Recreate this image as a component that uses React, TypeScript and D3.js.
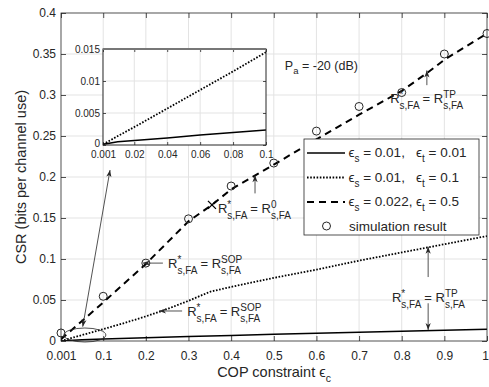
import { useEffect, useRef } from 'react';
import * as d3 from 'd3';

// ─── Data ───────────────────────────────────────────────────

const xTicks = [0.001, 0.1, 0.2, 0.3, 0.4, 0.5, 0.6, 0.7, 0.8, 0.9, 1];
const xTickLabels = ['0.001', '0.1', '0.2', '0.3', '0.4', '0.5', '0.6', '0.7', '0.8', '0.9', '1'];
const yTicks = [0, 0.05, 0.1, 0.15, 0.2, 0.25, 0.3, 0.35, 0.4];
const yTickLabels = ['0', '0.05', '0.1', '0.15', '0.2', '0.25', '0.3', '0.35', '0.4'];

// eps_s = 0.01, eps_t = 0.01 (solid)
const solidEps = [0.001, 0.02, 0.05, 0.1, 0.2, 0.3, 0.4, 0.5, 0.6, 0.7, 0.8, 0.9, 1];
const solidCsr = [0.0001, 0.0007, 0.0014, 0.0024, 0.004, 0.0054, 0.0068, 0.0081, 0.0093, 0.0106, 0.0118, 0.0131, 0.0143];

// eps_s = 0.01, eps_t = 0.1 (dotted)
const dottedEps = [0.001, 0.05, 0.1, 0.15, 0.2, 0.25, 0.3, 0.35, 0.4, 0.5, 0.6, 0.7, 0.8, 0.9, 1];
const dottedCsr = [0.0001, 0.0072, 0.0145, 0.022, 0.03, 0.039, 0.049, 0.06, 0.066, 0.077, 0.087, 0.098, 0.108, 0.118, 0.128];

// eps_s = 0.022, eps_t = 0.5 (dashed)
const dashedEps = [0.001, 0.1, 0.2, 0.3, 0.355, 0.4, 0.5, 0.6, 0.7, 0.8, 0.86, 0.9, 1];
const dashedCsr = [0.002, 0.047, 0.094, 0.146, 0.166, 0.185, 0.215, 0.246, 0.276, 0.305, 0.327, 0.343, 0.375];

// simulation result (circles)
const simEps = [0.001, 0.1, 0.2, 0.3, 0.4, 0.5, 0.6, 0.7, 0.8, 0.9, 1];
const simCsr = [0.0098, 0.0545, 0.095, 0.149, 0.189, 0.217, 0.256, 0.286, 0.303, 0.35, 0.375];

// R* = R0 switching point
const r0Eps = 0.355;
const r0Csr = 0.166;

// inset (zoom on 0.001..0.1)
const insetXTicks = [0.001, 0.02, 0.04, 0.06, 0.08, 0.1];
const insetXTickLabels = ['0.001', '0.02', '0.04', '0.06', '0.08', '0.1'];
const insetYTicks = [0, 0.005, 0.01, 0.015];
const insetYTickLabels = ['0', '0.005', '0.01', '0.015'];
const insetEps = [0.001, 0.01, 0.02, 0.04, 0.06, 0.08, 0.1];
const insetSolidCsr = [0.0001, 0.0005, 0.0007, 0.0011, 0.00155, 0.00195, 0.00234];
const insetDottedCsr = [0.0001, 0.0014, 0.0028, 0.0057, 0.0086, 0.0115, 0.0145];

const legendLabels = [
  { a: '0.01,', b: '0.01' },
  { a: '0.01,', b: '0.1' },
  { a: '0.022,', b: '0.5' },
];

// ─── Style ──────────────────────────────────────────────────

const W = 489;
const H = 387;
const FONT = '"Liberation Sans", Arial, Helvetica, sans-serif';
const INK = '#262626';
const GRID = '#e3e3e3';

type Sel = d3.Selection<SVGGElement, unknown, null, undefined>;

export default function App() {
  const svgRef = useRef<SVGSVGElement>(null);

  useEffect(() => {
    if (!svgRef.current) return;
    const svg = d3.select(svgRef.current);
    svg.selectAll('*').remove();

    const margin = { top: 13, right: 2, bottom: 46, left: 61 };
    const x = d3.scaleLinear().domain([0.001, 1]).range([margin.left, W - margin.right]);
    const y = d3.scaleLinear().domain([0, 0.4]).range([H - margin.bottom, margin.top]);
    const [x0, x1] = x.range();
    const [y0, y1] = y.range();

    const root = svg.append('g').attr('font-family', FONT) as unknown as Sel;

    const txt = (g: Sel, px: number, py: number, s: string, size: number, anchor = 'start') =>
      g.append('text')
        .attr('x', px)
        .attr('y', py)
        .attr('font-size', size)
        .attr('fill', INK)
        .attr('text-anchor', anchor)
        .text(s);

    // grid
    const grid = root.append('g');
    xTicks.slice(1, -1).forEach((t) => {
      grid.append('line').attr('x1', x(t)).attr('x2', x(t)).attr('y1', y0).attr('y2', y1)
        .attr('stroke', GRID).attr('stroke-width', 1);
    });
    yTicks.slice(1, -1).forEach((t) => {
      grid.append('line').attr('x1', x0).attr('x2', x1).attr('y1', y(t)).attr('y2', y(t))
        .attr('stroke', GRID).attr('stroke-width', 1);
    });

    // axes (ticks inward, box on)
    const styleAxis = (g: Sel) => {
      g.select('.domain').remove();
      g.selectAll('line').attr('stroke', INK).attr('stroke-width', 0.8);
      g.selectAll('text').attr('fill', INK).attr('font-size', 12).attr('font-family', FONT);
    };
    const bottom = root.append('g')
      .attr('transform', `translate(0,${y0})`)
      .call(d3.axisBottom(x).tickValues(xTicks).tickFormat((_, i) => xTickLabels[i]).tickSize(-5).tickPadding(10))
      .call(styleAxis);
    // keep the last label inside the window, as in the reference
    bottom.selectAll('text').filter((d) => d === 1).attr('dx', -2);
    root.append('g')
      .attr('transform', `translate(${x0},0)`)
      .call(d3.axisLeft(y).tickValues(yTicks).tickFormat((_, i) => yTickLabels[i]).tickSize(-5).tickPadding(5))
      .call(styleAxis);
    root.append('g')
      .attr('transform', `translate(0,${y1})`)
      .call(d3.axisTop(x).tickValues(xTicks).tickFormat(() => '').tickSize(-5))
      .call(styleAxis);
    root.append('g')
      .attr('transform', `translate(${x1},0)`)
      .call(d3.axisRight(y).tickValues(yTicks).tickFormat(() => '').tickSize(-5))
      .call(styleAxis);

    // curves
    const defs = svg.append('defs');
    defs.append('clipPath').attr('id', 'main-clip')
      .append('rect').attr('x', x0).attr('y', y1).attr('width', x1 - x0).attr('height', y0 - y1);

    const plot = root.append('g').attr('clip-path', 'url(#main-clip)');
    const drawLine = (g: Sel, xs: number[], ys: number[], sx: any, sy: any, dash: string | null, width: number) => {
      const line = d3.line<number>().x((_, i) => sx(xs[i])).y((d) => sy(d));
      const p = g.append('path').datum(ys).attr('d', line).attr('fill', 'none')
        .attr('stroke', '#000').attr('stroke-width', width);
      if (dash) p.attr('stroke-dasharray', dash);
      return p;
    };
    drawLine(plot, solidEps, solidCsr, x, y, null, 1.5);
    drawLine(plot, dottedEps, dottedCsr, x, y, '1.6,1.6', 1.8);
    drawLine(plot, dashedEps, dashedCsr, x, y, '7,5', 2);

    // simulation markers
    simEps.forEach((e, i) => {
      root.append('circle').attr('cx', x(e)).attr('cy', y(simCsr[i])).attr('r', 4)
        .attr('fill', 'none').attr('stroke', INK).attr('stroke-width', 1);
    });

    // R0 cross
    const cx = x(r0Eps), cy = y(r0Csr);
    root.append('path').attr('d', `M${cx - 4},${cy - 4}L${cx + 4},${cy + 4}M${cx - 4},${cy + 4}L${cx + 4},${cy - 4}`)
      .attr('stroke', '#000').attr('stroke-width', 1.3);

    // ─── annotations ───
    const ann = root.append('g');
    const head = (ax: number, ay: number, bx: number, by: number) => {
      const ang = Math.atan2(by - ay, bx - ax);
      const L = 7, Wd = 2.6, N = 5;
      const ux = Math.cos(ang), uy = Math.sin(ang);
      const px = -uy, py = ux;
      const p = [
        [bx, by],
        [bx - ux * L + px * Wd, by - uy * L + py * Wd],
        [bx - ux * N, by - uy * N],
        [bx - ux * L - px * Wd, by - uy * L - py * Wd],
      ];
      ann.append('path').attr('d', `M${p.map((q) => q.join(',')).join('L')}Z`).attr('fill', INK);
    };
    const arrow = (e1: number, v1: number, e2: number, v2: number, both = false) => {
      const ax = x(e1), ay = y(v1), bx = x(e2), by = y(v2);
      ann.append('line').attr('x1', ax).attr('y1', ay).attr('x2', bx).attr('y2', by)
        .attr('stroke', INK).attr('stroke-width', 0.8);
      head(ax, ay, bx, by);
      if (both) head(bx, by, ax, ay);
    };
    const rLabel = (e: number, v: number, sup: string) => {
      const px = x(e), py = y(v);
      const fs = 13, ss = 10;
      const r = txt(ann, px, py, 'R', fs);
      let cx2 = px + (r.node() as SVGTextElement).getComputedTextLength();
      txt(ann, cx2, py - 5, '*', ss);
      const s1 = txt(ann, cx2, py + 6, 's,FA', ss);
      cx2 += (s1.node() as SVGTextElement).getComputedTextLength() + 3;
      const eq = txt(ann, cx2, py, '= R', fs);
      cx2 += (eq.node() as SVGTextElement).getComputedTextLength();
      txt(ann, cx2, py - 5, sup, ss);
      txt(ann, cx2, py + 6, 's,FA', ss);
    };

    // P_a label
    const pa = ann.append('text').attr('x', x(0.526)).attr('y', y(0.33)).attr('font-size', 12.5).attr('fill', INK);
    pa.append('tspan').text('P');
    pa.append('tspan').attr('dy', 4).attr('font-size', 9.5).text('a');
    pa.append('tspan').attr('dy', -4).text(' = -20 (dB)');

    rLabel(0.773, 0.29, 'TP');
    arrow(0.859, 0.312, 0.859, 0.33);

    rLabel(0.369, 0.156, '0');
    arrow(0.456, 0.18, 0.456, 0.202);

    rLabel(0.252, 0.089, 'SOP');
    arrow(0.24, 0.095, 0.193, 0.095);

    rLabel(0.297, 0.03, 'SOP');
    arrow(0.285, 0.0366, 0.231, 0.0366);

    rLabel(0.777, 0.0476, 'TP');
    arrow(0.862, 0.078, 0.862, 0.115);
    arrow(0.862, 0.046, 0.862, 0.0134);

    ann.append('ellipse').attr('cx', x(0.057)).attr('cy', y(0.0073)).attr('rx', 21).attr('ry', 7)
      .attr('fill', 'none').attr('stroke', INK).attr('stroke-width', 0.8);
    arrow(0.052, 0.0175, 0.116, 0.2085, true);

    // ─── legend ───
    const lg = root.append('g');
    lg.append('rect').attr('x', 304).attr('y', 139).attr('width', 175).attr('height', 96)
      .attr('fill', '#fff').attr('stroke', INK).attr('stroke-width', 0.8);
    const rowY = (i: number) => 157 + i * 24.5;
    const styles: [string | null, number][] = [[null, 1.5], ['1.6,1.6', 1.8], ['7,5', 2]];
    legendLabels.forEach((lab, i) => {
      const by = rowY(i);
      const ln = lg.append('line').attr('x1', 307).attr('x2', 345).attr('y1', by - 4).attr('y2', by - 4)
        .attr('stroke', '#000').attr('stroke-width', styles[i][1]);
      if (styles[i][0]) ln.attr('stroke-dasharray', styles[i][0] as string);
      const t1 = lg.append('text').attr('x', 348.5).attr('y', by).attr('font-size', 13.5).attr('fill', INK);
      t1.append('tspan').text('ϵ');
      t1.append('tspan').attr('dy', 5).attr('font-size', 10).text('s');
      t1.append('tspan').attr('dy', -5).text(` = ${lab.a}`);
      const t2 = lg.append('text').attr('x', 416).attr('y', by).attr('font-size', 13.5).attr('fill', INK);
      t2.append('tspan').text('ϵ');
      t2.append('tspan').attr('dy', 5).attr('font-size', 10).text('t');
      t2.append('tspan').attr('dy', -5).text(` = ${lab.b}`);
    });
    lg.append('circle').attr('cx', 326.5).attr('cy', rowY(3) - 4.5).attr('r', 4)
      .attr('fill', 'none').attr('stroke', INK).attr('stroke-width', 1);
    txt(lg, 349, rowY(3), 'simulation result', 13.5);

    // ─── axis labels ───
    const xl = root.append('text').attr('x', (x0 + x1) / 2).attr('y', 377).attr('text-anchor', 'middle')
      .attr('font-size', 14.5).attr('fill', INK);
    xl.append('tspan').text('COP constraint ϵ');
    xl.append('tspan').attr('dy', 5).attr('font-size', 10.5).text('c');
    root.append('text')
      .attr('transform', `translate(25.5,${(y0 + y1) / 2}) rotate(-90)`)
      .attr('text-anchor', 'middle').attr('font-size', 14.5).attr('fill', INK)
      .text('CSR (bits per channel use)');

    // ─── inset ───
    const ix = d3.scaleLinear().domain([0.001, 0.1]).range([103, 266]);
    const iy = d3.scaleLinear().domain([0, 0.015]).range([145, 49]);
    const [ix0, ix1] = ix.range();
    const [iy0, iy1] = iy.range();
    const inset = root.append('g');
    inset.append('rect').attr('x', ix0).attr('y', iy1).attr('width', ix1 - ix0).attr('height', iy0 - iy1)
      .attr('fill', '#fff');
    insetXTicks.slice(1, -1).forEach((t) => {
      inset.append('line').attr('x1', ix(t)).attr('x2', ix(t)).attr('y1', iy0).attr('y2', iy1)
        .attr('stroke', GRID).attr('stroke-width', 1);
    });
    insetYTicks.slice(1, -1).forEach((t) => {
      inset.append('line').attr('x1', ix0).attr('x2', ix1).attr('y1', iy(t)).attr('y2', iy(t))
        .attr('stroke', GRID).attr('stroke-width', 1);
    });
    const styleInset = (g: Sel) => {
      g.select('.domain').remove();
      g.selectAll('line').attr('stroke', INK).attr('stroke-width', 0.8);
      g.selectAll('text').attr('fill', INK).attr('font-size', 10).attr('font-family', FONT);
    };
    inset.append('g').attr('transform', `translate(0,${iy0})`)
      .call(d3.axisBottom(ix).tickValues(insetXTicks).tickFormat((_, i) => insetXTickLabels[i]).tickSize(-3).tickPadding(6))
      .call(styleInset);
    inset.append('g').attr('transform', `translate(${ix0},0)`)
      .call(d3.axisLeft(iy).tickValues(insetYTicks).tickFormat((_, i) => insetYTickLabels[i]).tickSize(-3).tickPadding(3))
      .call(styleInset)
      .selectAll('text').filter((d) => d === 0).attr('dy', '0.1em');
    inset.append('g').attr('transform', `translate(0,${iy1})`)
      .call(d3.axisTop(ix).tickValues(insetXTicks).tickFormat(() => '').tickSize(-3))
      .call(styleInset);
    inset.append('g').attr('transform', `translate(${ix1},0)`)
      .call(d3.axisRight(iy).tickValues(insetYTicks).tickFormat(() => '').tickSize(-3))
      .call(styleInset);
    defs.append('clipPath').attr('id', 'inset-clip')
      .append('rect').attr('x', ix0).attr('y', iy1).attr('width', ix1 - ix0).attr('height', iy0 - iy1);
    const iplot = inset.append('g').attr('clip-path', 'url(#inset-clip)') as unknown as Sel;
    drawLine(iplot, insetEps, insetSolidCsr, ix, iy, null, 1.5);
    drawLine(iplot, insetEps, insetDottedCsr, ix, iy, '1.6,1.6', 1.8);
    inset.append('rect').attr('x', ix0).attr('y', iy1).attr('width', ix1 - ix0).attr('height', iy0 - iy1)
      .attr('fill', 'none').attr('stroke', INK).attr('stroke-width', 1);
    inset.append('line').attr('x1', ix0).attr('x2', ix1).attr('y1', iy1).attr('y2', iy1)
      .attr('stroke', '#777').attr('stroke-width', 1.8);

    // main box
    root.append('rect').attr('x', x0).attr('y', y1).attr('width', x1 - x0).attr('height', y0 - y1)
      .attr('fill', 'none').attr('stroke', INK).attr('stroke-width', 0.8);
  }, []);

  return (
    <div style={{ position: 'absolute', left: 0, top: 0 }}>
      <svg ref={svgRef} width={W} height={H} style={{ display: 'block', background: '#fff' }} />
    </div>
  );
}
